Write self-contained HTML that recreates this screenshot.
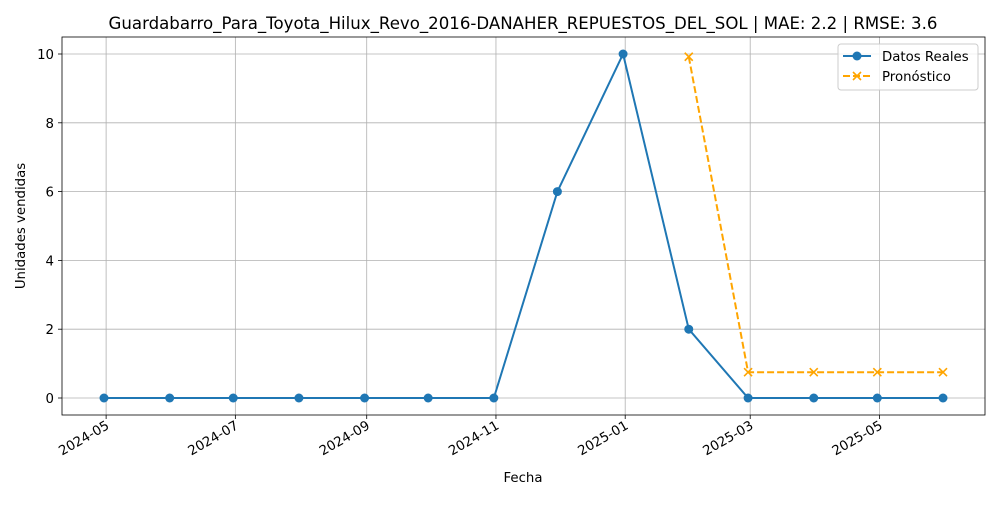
<!DOCTYPE html>
<html><head><meta charset="utf-8">
<style>
body{margin:0;background:#fff;}
svg text{font-family:"DejaVu Sans","Liberation Sans",sans-serif;}
</style></head>
<body>
<svg id="chart" width="1000" height="500" viewBox="0 0 1000 500" xmlns="http://www.w3.org/2000/svg"></svg>
<script>
const actualDates=["2024-04-30","2024-05-31","2024-06-30","2024-07-31","2024-08-31","2024-09-30","2024-10-31","2024-11-30","2024-12-31","2025-01-31","2025-02-28","2025-03-31","2025-04-30","2025-05-31"];
const actualValues=[0,0,0,0,0,0,0,6,10,2,0,0,0,0];
const forecastDates=["2025-01-31","2025-02-28","2025-03-31","2025-04-30","2025-05-31"];
const forecastValues=[9.92,0.75,0.75,0.75,0.75];
const xTickLabels=["2024-05","2024-07","2024-09","2024-11","2025-01","2025-03","2025-05"];
const yTickValues=[0,2,4,6,8,10];

const svg=document.getElementById('chart');
const NS="http://www.w3.org/2000/svg";
const L=62,R=985,T=37,B=415;
const day=s=>Date.parse(s)/86400000;
const d0=day("2024-04-30"),pxPerDay=(943-104)/(day("2025-05-31")-d0);
const xs=s=>104+(day(s)-d0)*pxPerDay;
const ys=v=>398-v*34.4;
function mk(tag,attrs,parent){const e=document.createElementNS(NS,tag);for(const k in attrs)e.setAttribute(k,attrs[k]);(parent||svg).appendChild(e);return e;}

const grid=mk('g',{});


xTickLabels.forEach(t=>{const x=xs(t+"-01");
  const l=mk('line',{x1:x,x2:x,y1:T,y2:B,stroke:'#b0b0b0','stroke-width':0.8},grid);
  
  
  mk('line',{x1:x,x2:x,y1:B,y2:B+4,stroke:'#000','stroke-width':0.8});
  const tx=mk('text',{x:0,y:0,'font-size':13.3,'text-anchor':'end',transform:`translate(${x+4},${B+13}) rotate(-30)`});
  tx.textContent=t;
  
  
});
yTickValues.forEach(v=>{const y=ys(v);
  const l=mk('line',{x1:L,x2:R,y1:y,y2:y,stroke:'#b0b0b0','stroke-width':0.8},grid);
  
  
  mk('line',{x1:L-4,x2:L,y1:y,y2:y,stroke:'#000','stroke-width':0.8});
  const tx=mk('text',{x:L-8,y:y+5,'font-size':13.3,'text-anchor':'end'});
  tx.textContent=v;
  
  
});

const ap=mk('polyline',{points:actualDates.map((d,i)=>xs(d)+','+ys(actualValues[i])).join(' '),fill:'none',stroke:'#1f77b4','stroke-width':2});


actualDates.forEach((d,i)=>{const c=mk('circle',{cx:xs(d),cy:ys(actualValues[i]),r:4.5,fill:'#1f77b4'});
  
  });

const fp=mk('polyline',{points:forecastDates.map((d,i)=>xs(d)+','+ys(forecastValues[i])).join(' '),fill:'none',stroke:'orange','stroke-width':2,'stroke-dasharray':'7,3'});


function xmark(x,y,name){const g=mk('path',{d:`M${x-4},${y-4}L${x+4},${y+4}M${x-4},${y+4}L${x+4},${y-4}`,stroke:'orange','stroke-width':1.6});
  
  }
forecastDates.forEach((d,i)=>xmark(xs(d),ys(forecastValues[i]),'forecast-point'));

const fr=mk('rect',{x:L,y:T,width:R-L,height:B-T,fill:'none',stroke:'#000','stroke-width':0.8});



let t=mk('text',{x:523,y:29,'font-size':16.6,'text-anchor':'middle'});
t.textContent="Guardabarro_Para_Toyota_Hilux_Revo_2016-DANAHER_REPUESTOS_DEL_SOL | MAE: 2.2 | RMSE: 3.6";


t=mk('text',{x:523,y:482,'font-size':13.3,'text-anchor':'middle'});
t.textContent="Fecha";


t=mk('text',{x:0,y:0,'font-size':13.3,'text-anchor':'middle',transform:'translate(25,226) rotate(-90)'});
t.textContent="Unidades vendidas";



const lg=mk('g',{});


mk('rect',{x:838,y:44,width:140,height:46,rx:3,fill:'#fff','fill-opacity':0.8,stroke:'#ccc'},lg);
mk('line',{x1:843,x2:871,y1:56,y2:56,stroke:'#1f77b4','stroke-width':2},lg);
mk('circle',{cx:857,cy:56,r:4.5,fill:'#1f77b4'},lg);
let lt=mk('text',{x:882,y:61,'font-size':13.3},lg);lt.textContent="Datos Reales";


mk('line',{x1:843,x2:871,y1:76,y2:76,stroke:'orange','stroke-width':2,'stroke-dasharray':'7,3'},lg);
xmark(857,76,'legend-marker-forecast');
lt=mk('text',{x:882,y:81,'font-size':13.3},lg);lt.textContent="Pronóstico";


</script>
</body></html>
